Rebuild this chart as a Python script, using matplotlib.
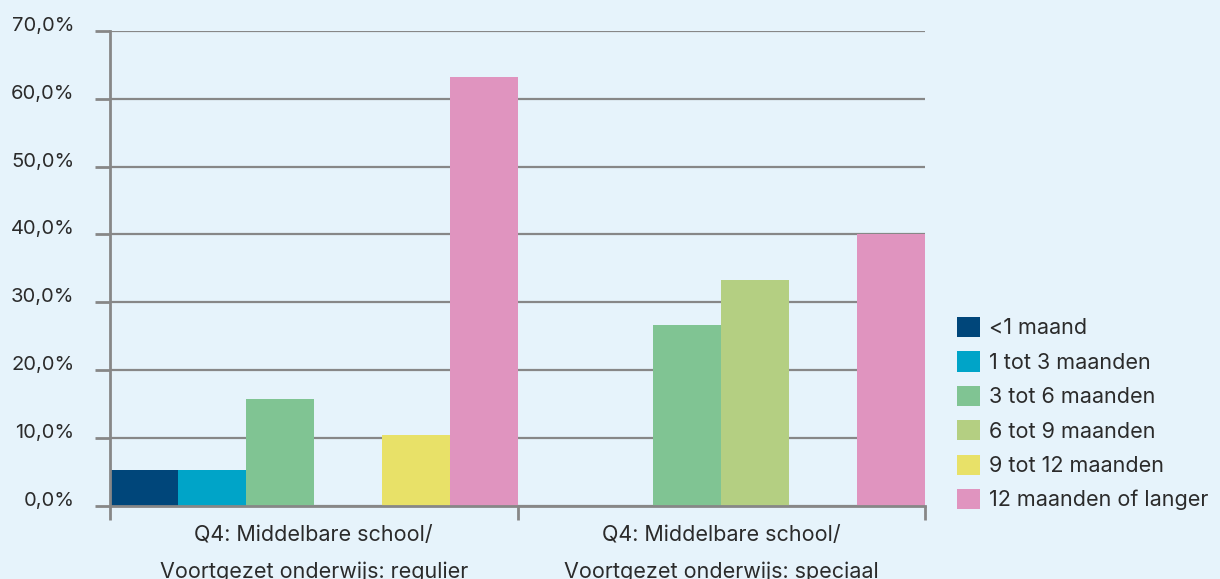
import matplotlib
matplotlib.use("Agg")
import matplotlib.pyplot as plt
from matplotlib.patches import Patch
from matplotlib.ticker import FuncFormatter

categories = ["Q4: Middelbare school/\nVoortgezet onderwijs: regulier",
              "Q4: Middelbare school/\nVoortgezet onderwijs: speciaal"]
series_names = ["<1 maand", "1 tot 3 maanden", "3 tot 6 maanden",
                "6 tot 9 maanden", "9 tot 12 maanden", "12 maanden of langer"]
values = {
    "<1 maand":             [5.3, 0.0],
    "1 tot 3 maanden":      [5.3, 0.0],
    "3 tot 6 maanden":      [15.8, 26.7],
    "6 tot 9 maanden":      [0.0, 33.3],
    "9 tot 12 maanden":     [10.5, 0.0],
    "12 maanden of langer": [63.2, 40.0],
}
colors = ["#00467a", "#00a4c8", "#80c493", "#b4cf82", "#e8e168", "#e094bf"]
yticks = [0, 10, 20, 30, 40, 50, 60, 70]

bg = "#e6f3fb"
grey = "#878787"
txt = "#2b2b2b"
plt.rcParams['font.family'] = ['Inter', 'DejaVu Sans']
FS = 15.5
FSY = 14.5

fig = plt.figure(figsize=(12.2, 5.79), dpi=100, facecolor=bg)
W, H = 1220, 579
ax = fig.add_axes([110 / W, (H - 506) / H, (925 - 110) / W, (506 - 30.7) / H])
ax.set_facecolor(bg)

n = len(series_names)
w = 1.0 / n
for j, name in enumerate(series_names):
    xs = [i + (j - (n - 1) / 2) * w for i in range(len(categories))]
    ax.bar(xs, values[name], width=w, color=colors[j], zorder=2, linewidth=0)

ax.set_xlim(-0.5, len(categories) - 0.5)
ax.set_ylim(0, 70)
ax.set_yticks(yticks)
ax.yaxis.set_major_formatter(FuncFormatter(lambda v, p: f"{v:.1f}%".replace(".", ",")))
ax.grid(axis="y", color=grey, linewidth=1.6, zorder=1)
ax.set_axisbelow(True)

for s in ["top", "right"]:
    ax.spines[s].set_visible(False)
for s in ["left", "bottom"]:
    ax.spines[s].set_color(grey)
    ax.spines[s].set_linewidth(2)
    ax.spines[s].set_zorder(3)

ax.tick_params(axis="y", length=11, width=2, color=grey, labelsize=FSY,
               labelcolor=txt, pad=14.5)
for lbl in ax.get_yticklabels():
    lbl.set_verticalalignment("baseline")
ax.set_xticks(range(len(categories)))
ax.set_xticklabels(categories)
ax.set_xticks([-0.5 + k for k in range(len(categories) + 1)], minor=True)
ax.tick_params(axis="x", which="major", length=0, labelsize=FS,
               labelcolor=txt, pad=14)
ax.tick_params(axis="x", which="minor", length=10, width=2, color=grey)
for lbl in ax.get_xticklabels():
    lbl.set_linespacing(2.0)

handles = [Patch(facecolor=c, edgecolor="none") for c in colors]
fig.legend(handles, series_names, loc="upper left",
           bbox_to_anchor=(957 / W, (H - 317) / H), frameon=False,
           fontsize=FS, handlelength=1.07, handleheight=1.07,
           handletextpad=0.4, labelspacing=0.6, borderpad=0,
           borderaxespad=0, labelcolor=txt)

fig.savefig("out.png", dpi=100, facecolor=bg)
